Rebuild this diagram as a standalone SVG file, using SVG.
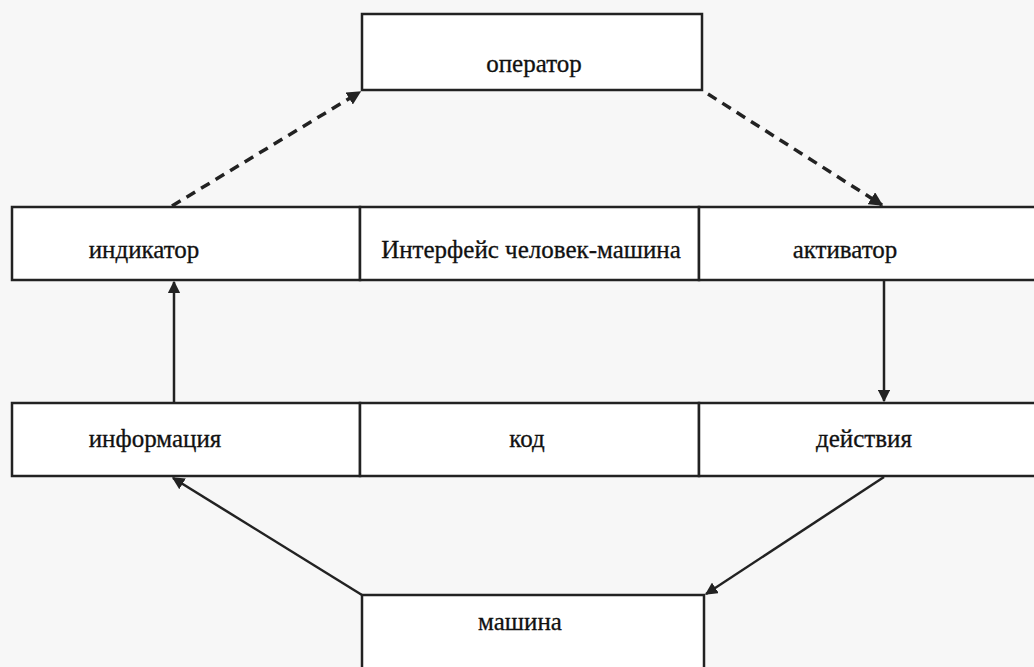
<svg xmlns="http://www.w3.org/2000/svg" width="1034" height="667" viewBox="0 0 1034 667">
<style>
.box{fill:#fff;stroke:#222;stroke-width:2.5}
.t{font-family:"Liberation Serif",serif;font-size:25px;fill:#111;text-anchor:middle;stroke:#111;stroke-width:0.3}
.c{stroke:#222;stroke-width:2.5;fill:none}
.d{stroke-dasharray:10,7;stroke-width:3.5}
</style>
<defs>
<marker id="ah" viewBox="0 0 10 10" refX="9" refY="5" markerWidth="5" markerHeight="5" orient="auto" markerUnits="strokeWidth">
<path d="M0,0 L10,5 L0,10 z" fill="#222"/>
</marker>
<marker id="ah2" viewBox="0 0 10 10" refX="9" refY="5" markerWidth="4" markerHeight="4" orient="auto" markerUnits="strokeWidth">
<path d="M0,0 L10,5 L0,10 z" fill="#222"/>
</marker>
</defs>
<rect width="1034" height="667" fill="#f7f7f7"/>
<g id="operator"><rect class="box" x="362" y="14" width="340" height="76"/><text class="t" x="534" y="72">оператор</text></g>
<g id="indicator"><rect class="box" x="12" y="207" width="348" height="73"/><text class="t" x="144" y="258">индикатор</text></g>
<g id="interface"><rect class="box" x="360" y="207" width="339" height="73"/><text class="t" x="531" y="258">Интерфейс человек-машина</text></g>
<g id="activator"><rect class="box" x="699" y="207" width="345" height="73"/><text class="t" x="845" y="258">активатор</text></g>
<g id="information"><rect class="box" x="12" y="403" width="348" height="73"/><text class="t" x="155" y="447">информация</text></g>
<g id="code"><rect class="box" x="360" y="403" width="339" height="73"/><text class="t" x="527" y="447">код</text></g>
<g id="actions"><rect class="box" x="699" y="403" width="345" height="73"/><text class="t" x="864" y="447">действия</text></g>
<g id="machine"><rect class="box" x="362" y="595" width="342" height="80"/><text class="t" x="520" y="630">машина</text></g>
<g id="connectors">
<line class="c d" x1="172" y1="206" x2="360" y2="92" marker-end="url(#ah2)"/>
<line class="c d" x1="708" y1="94" x2="882" y2="205" marker-end="url(#ah2)"/>
<line class="c" x1="174" y1="402" x2="174" y2="282" marker-end="url(#ah)"/>
<line class="c" x1="884" y1="281" x2="884" y2="401" marker-end="url(#ah)"/>
<line class="c" x1="362" y1="595" x2="173" y2="478" marker-end="url(#ah)"/>
<line class="c" x1="884" y1="477" x2="706" y2="594" marker-end="url(#ah)"/>
</g>
</svg>
